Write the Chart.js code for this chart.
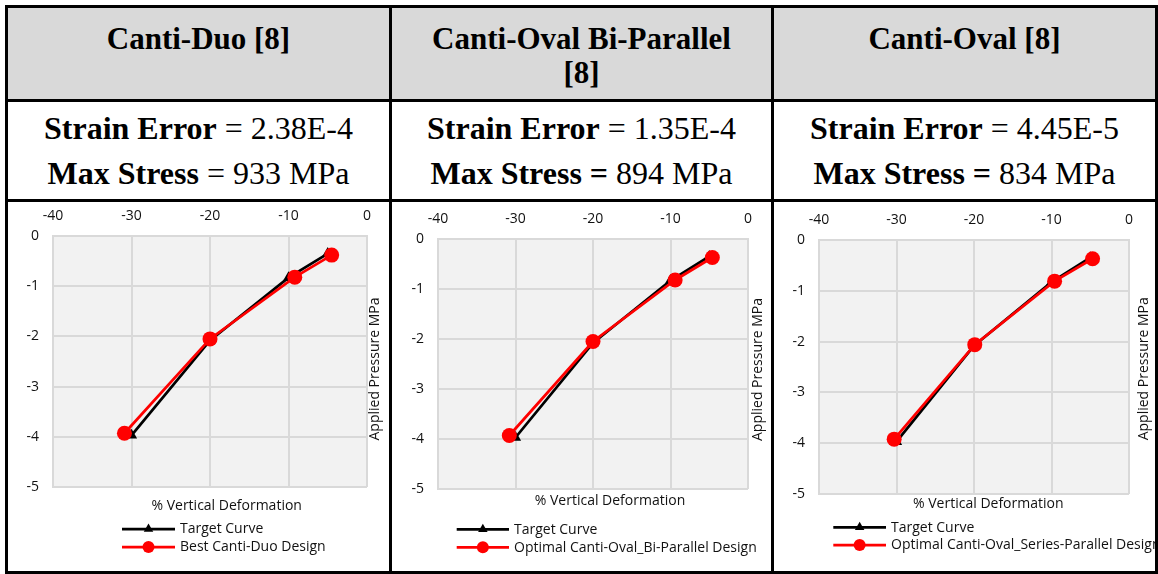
<!DOCTYPE html>
<html>
<head>
<meta charset="utf-8">
<title>Canti designs - pressure vs deformation</title>
<script src="https://cdn.jsdelivr.net/npm/chart.js@4.4.1/dist/chart.umd.min.js"></script>
<style>
  body { margin: 0; background: #fff; width: 1158px; height: 574px; position: relative; overflow: hidden; }
  .frame { position: absolute; left: 5px; top: 5px; width: 1153px; height: 569px; border: 3px solid #000; box-sizing: border-box; }
  .head { position: absolute; left: 8px; top: 8px; width: 1147px; height: 91px; background: #d9d9d9; }
  .hline { position: absolute; left: 5px; width: 1153px; height: 3px; background: #000; }
  .vline { position: absolute; top: 5px; width: 3px; height: 569px; background: #000; }
  .title { position: absolute; top: 22px; font: bold 31px/34px "Liberation Serif", "Times New Roman", serif; text-align: center; color: #000; }
  .stats { position: absolute; top: 106px; font: 32px/45px "Liberation Serif", "Times New Roman", serif; text-align: center; color: #000; white-space: nowrap; }
  .stats b { font-weight: bold; }
  canvas { position: absolute; top: 202px; }
</style>
</head>
<body>
<div class="head"></div>
<div class="frame"></div>
<div class="hline" style="top:99px"></div>
<div class="hline" style="top:199px"></div>
<div class="vline" style="left:389px"></div>
<div class="vline" style="left:771px"></div>

<script>
// table text
var panelTitles = [["Canti-Duo [8]"], ["Canti-Oval Bi-Parallel", "[8]"], ["Canti-Oval [8]"]];
var strainError = ["2.38E-4", "1.35E-4", "4.45E-5"];
var maxStress = [933, 894, 834];

// series
var seriesTarget = "Target Curve";
var designNames = ["Best Canti-Duo Design", "Optimal Canti-Oval_Bi-Parallel Design", "Optimal Canti-Oval_Series-Parallel Design"];

var targetDeform = [-30, -20, -10, -5];
var targetPressure = [-3.97, -2.08, -0.83, -0.35];

var duoDeform = [-30.9, -20, -9.2, -4.5];
var duoPressure = [-3.93, -2.05, -0.82, -0.38];

var biParDeform = [-30.8, -20, -9.4, -4.6];
var biParPressure = [-3.93, -2.05, -0.82, -0.37];

var serParDeform = [-30.3, -19.9, -9.6, -4.7];
var serParPressure = [-3.92, -2.06, -0.81, -0.37];

var designDeform = [duoDeform, biParDeform, serParDeform];
var designPressure = [duoPressure, biParPressure, serParPressure];

// axes
var xTicks = [-40, -30, -20, -10, 0];
var yTicks = [0, -1, -2, -3, -4, -5];
var xName = "% Vertical Deformation";
var yName = "Applied Pressure MPa";

// cell geometry and placement inside each chart canvas
var cells = [
  { left: 8, width: 381, plot: [45, 34, 359, 285], xName: [218.7, 304], yName: [367.5, 167], legend: [114, 167, 172, 327, 18], eqBold: false },
  { left: 392, width: 379, plot: [46, 37, 356, 287], xName: [218, 299], yName: [366.3, 167.5], legend: [64.7, 117, 122, 327.3, 18], eqBold: true },
  { left: 774, width: 381, plot: [45, 38, 355, 292], xName: [214.3, 302], yName: [370, 166.8], legend: [59.3, 112, 117, 325.3, 17.7], eqBold: true }
];
var canvasHeight = 369;

Chart.defaults.font.family = '"Open Sans", sans-serif';
Chart.defaults.font.size = 14;
Chart.defaults.color = "#111";

function toPoints(xs, ys) {
  var pts = [];
  for (var i = 0; i < xs.length; i++) pts.push({ x: xs[i], y: ys[i] });
  return pts;
}

function drawMarker(ctx, style, r, x, y, color) {
  ctx.fillStyle = color;
  ctx.beginPath();
  if (style === "triangle") {
    var a = 0;
    ctx.moveTo(x + Math.sin(a) * r, y - Math.cos(a) * r);
    a += Math.PI * 2 / 3;
    ctx.lineTo(x + Math.sin(a) * r, y - Math.cos(a) * r);
    a += Math.PI * 2 / 3;
    ctx.lineTo(x + Math.sin(a) * r, y - Math.cos(a) * r);
    ctx.closePath();
  } else {
    ctx.arc(x, y, r, 0, Math.PI * 2);
  }
  ctx.fill();
}

// grey plot background
var plotBg = {
  id: "plotBg",
  beforeDraw: function (chart) {
    var a = chart.chartArea;
    chart.ctx.save();
    chart.ctx.fillStyle = "#f2f2f2";
    chart.ctx.fillRect(a.left, a.top, a.right - a.left, a.bottom - a.top);
    chart.ctx.restore();
  }
};

// axis names and the legend under the plot
var extras = {
  id: "extras",
  afterDraw: function (chart, args, opts) {
    var ctx = chart.ctx;
    var c = opts.cell;
    ctx.save();
    ctx.fillStyle = "#111";
    ctx.font = '14px "Open Sans"';
    ctx.textAlign = "center";
    ctx.textBaseline = "middle";
    ctx.fillText(xName, c.xName[0], c.xName[1]);
    ctx.save();
    ctx.translate(c.yName[0], c.yName[1]);
    ctx.rotate(-Math.PI / 2);
    ctx.fillText(yName, 0, 0);
    ctx.restore();

    var lg = c.legend;
    var sets = chart.data.datasets;
    for (var i = 0; i < sets.length; i++) {
      var ds = sets[i];
      var y = lg[3] + i * lg[4];
      ctx.strokeStyle = ds.borderColor;
      ctx.lineWidth = ds.borderWidth;
      ctx.beginPath();
      ctx.moveTo(lg[0], y);
      ctx.lineTo(lg[1], y);
      ctx.stroke();
      drawMarker(ctx, ds.pointStyle, ds.pointStyle === "triangle" ? 5.5 : 6, (lg[0] + lg[1]) / 2, y, ds.pointBackgroundColor);
      ctx.fillStyle = "#111";
      ctx.textAlign = "left";
      ctx.fillText(ds.label, lg[2], y + 0.5);
    }
    ctx.restore();
  }
};

for (var k = 0; k < cells.length; k++) {
  var cell = cells[k];

  var t = document.createElement("div");
  t.className = "title";
  t.style.left = cell.left + "px";
  t.style.width = cell.width + "px";
  t.innerHTML = panelTitles[k].join("<br>");
  document.body.appendChild(t);

  var s = document.createElement("div");
  s.className = "stats";
  s.style.left = cell.left + "px";
  s.style.width = cell.width + "px";
  s.innerHTML = "<b>Strain Error</b> = " + strainError[k] + "<br>" +
    (cell.eqBold ? "<b>Max Stress =</b> " : "<b>Max Stress</b> = ") + maxStress[k] + " MPa";
  document.body.appendChild(s);

  var cv = document.createElement("canvas");
  cv.width = cell.width;
  cv.height = canvasHeight;
  cv.style.left = cell.left + "px";
  document.body.appendChild(cv);

  makeChart(cv, cell, k);
}

function makeChart(cv, cell, k) {
  var p = cell.plot;
  new Chart(cv.getContext("2d"), {
    type: "scatter",
    data: {
      datasets: [
        {
          label: seriesTarget,
          data: toPoints(targetDeform, targetPressure),
          showLine: true,
          borderColor: "#000",
          borderWidth: 2.75,
          pointStyle: "triangle",
          pointRadius: 6.5,
          pointBackgroundColor: "#000",
          pointBorderWidth: 0,
          order: 2
        },
        {
          label: designNames[k],
          data: toPoints(designDeform[k], designPressure[k]),
          showLine: true,
          borderColor: "#ff0000",
          borderWidth: 2.75,
          pointStyle: "circle",
          pointRadius: 7.5,
          pointBackgroundColor: "#ff0000",
          pointBorderWidth: 0,
          order: 1
        }
      ]
    },
    options: {
      responsive: false,
      animation: false,
      events: [],
      layout: { padding: { left: 0, top: 0, right: cell.width - p[2], bottom: canvasHeight - p[3] } },
      plugins: {
        legend: { display: false },
        tooltip: { enabled: false },
        extras: { cell: cell }
      },
      scales: {
        x: {
          type: "linear",
          position: "top",
          min: Math.min.apply(null, xTicks),
          max: Math.max.apply(null, xTicks),
          ticks: { stepSize: xTicks[1] - xTicks[0], padding: 12, color: "#111", font: { size: 14 } },
          grid: { color: "#d9d9d9", lineWidth: 2, drawTicks: false },
          border: { color: "#d9d9d9", width: 2 },
          afterFit: function (scale) { scale.height = p[1]; }
        },
        y: {
          type: "linear",
          position: "left",
          min: Math.min.apply(null, yTicks),
          max: Math.max.apply(null, yTicks),
          ticks: { stepSize: yTicks[0] - yTicks[1], padding: 14, color: "#111", font: { size: 14 } },
          grid: { color: "#d9d9d9", lineWidth: 2, drawTicks: false },
          border: { color: "#d9d9d9", width: 2 },
          afterFit: function (scale) { scale.width = p[0]; }
        }
      }
    },
    plugins: [plotBg, extras]
  });
}
</script>
</body>
</html>
